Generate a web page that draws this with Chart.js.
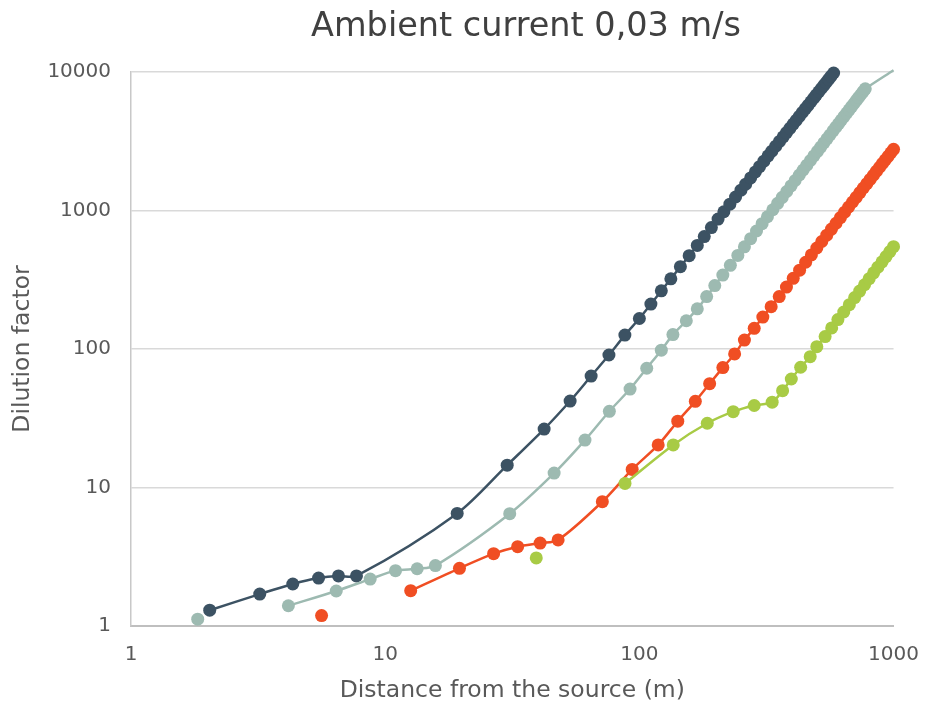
<!DOCTYPE html>
<html>
<head>
<meta charset="utf-8">
<title>Ambient current 0,03 m/s</title>
<script src="https://cdn.jsdelivr.net/npm/chart.js@4/dist/chart.umd.min.js"></script>
<style>
    body { margin: 0; background: #fff; }
    #wrap { width: 936px; height: 704px; }
</style>
</head>
<body>
<div id="wrap"><canvas id="chart" width="936" height="704"></canvas></div>
<script>
// values (distance in m, dilution factor)
const xTicks = [1, 10, 100, 1000];
const yTicks = [1, 10, 100, 1000, 10000];

const darkX = [2.04, 3.21, 4.33, 5.47, 6.55, 7.71, 19.2, 30.2, 42.2, 53.4, 64.6, 75.9, 87.7,
    100, 111, 122, 133, 145, 157, 169, 180, 192, 204, 215, 227, 239, 251, 262, 274, 286, 297,
    309, 321, 332, 344, 356, 368, 379, 391, 403, 414, 426, 438, 450, 461, 473, 485, 496, 508,
    520, 532, 543, 555, 567, 581];
const darkY = [1.30, 1.70, 2.01, 2.22, 2.30, 2.30, 6.5, 14.5, 26.4, 42.1, 63.8, 90.5, 126,
    166, 211, 263, 321, 393, 472, 560, 648, 753, 867, 979, 1111, 1252, 1402, 1549, 1719, 1899, 2073,
    2272, 2481, 2683, 2915, 3155, 3406, 3648, 3923, 4206, 4478, 4784, 5104, 5435, 5747, 6101, 6464, 6810, 7198,
    7598, 8011, 8402, 8838, 9290, 9831];

const grayLoneX = [1.83];
const grayLoneY = [1.12];
const grayX = [4.16, 6.42, 8.73, 10.98, 13.36, 15.76, 30.9, 46.2, 61.1, 76.2, 91.9, 106.9, 122,
    135.5, 153, 169, 184, 198, 213, 228, 244, 259, 274, 289, 304, 319, 335, 350, 365, 380, 395,
    410, 426, 441, 456, 471, 486, 502, 517, 532, 547, 562, 578, 593, 608, 623, 638, 654, 669,
    684, 699, 714, 729, 744, 759, 774, 1000];
const grayY = [1.40, 1.79, 2.18, 2.51, 2.59, 2.73, 6.47, 12.7, 22.0, 35.5, 51.4, 72.6, 98,
    127, 160, 195, 239, 287, 342, 402, 474, 547, 626, 711, 803, 901, 1013, 1126, 1245, 1372, 1505,
    1647, 1805, 1961, 2125, 2296, 2476, 2676, 2872, 3076, 3289, 3509, 3753, 3994, 4238, 4493, 4757, 5049, 5331,
    5625, 5924, 6233, 6551, 6881, 7215, 7562, 10300];

const orangeLoneX = [5.62];
const orangeLoneY = [1.19];
const orangeX = [12.6, 19.6, 26.7, 33.2, 40.7, 47.9, 71.5, 93.7, 118.6, 141.6, 166, 189, 213,
    237, 259, 283, 306, 330, 355, 379, 403, 427, 451, 475, 499, 522, 546, 570, 594, 618, 642,
    666, 690, 713, 737, 761, 785, 809, 833, 857, 881, 905, 928, 952, 976, 1000];
const orangeY = [1.80, 2.61, 3.33, 3.74, 3.97, 4.18, 7.9, 13.5, 20.3, 30.1, 41.9, 56.2, 73.4,
    92.1, 116, 141, 170, 202, 239, 280, 324, 371, 423, 478, 536, 597, 663, 734, 809, 889, 972,
    1060, 1152, 1245, 1347, 1453, 1563, 1677, 1797, 1923, 2052, 2186, 2319, 2463, 2612, 2767];

const greenLoneX = [39.3];
const greenLoneY = [3.10];
const greenX = [87.8, 135.9, 185, 234, 283, 333, 366, 396, 431, 470, 499, 538, 571, 604, 637,
    670, 703, 736, 769, 802, 835, 868, 901, 934, 967, 1000];
const greenY = [10.7, 20.3, 29.1, 35.3, 39.1, 41.3, 50, 60.7, 73.8, 88, 104, 123, 142, 163, 185,
    209, 235, 262, 291, 322, 355, 390, 426, 465, 505, 548];

const DARK = '#3c5263';
const GRAY = '#9dbab1';
const ORANGE = '#f04e23';
const GREEN = '#a8cb45';

function toPoints(xs, ys) {
    return xs.map((x, i) => ({ x: x, y: ys[i] }));
}

function series(xs, ys, color, lastHidden) {
    const n = xs.length;
    return {
        data: toPoints(xs, ys),
        showLine: true,
        borderColor: color,
        backgroundColor: color,
        borderWidth: 2.5,
        tension: 0.3,
        pointRadius: ctx => (lastHidden && ctx.dataIndex === n - 1) ? 0 : 6.5,
        pointHoverRadius: 6.5,
        pointBorderWidth: 0,
        pointBackgroundColor: color,
        clip: false
    };
}

// the title sits a little right of the canvas centre, as in the original
const shiftTitle = {
    id: 'shiftTitle',
    afterLayout(chart) {
        if (chart.titleBlock) {
            chart.titleBlock.left = 157;
            chart.titleBlock.right = 895;
        }
    }
};

const font = 'DejaVu Sans';

new Chart(document.getElementById('chart'), {
    type: 'scatter',
    data: {
        datasets: [
            series(greenLoneX, greenLoneY, GREEN),
            series(greenX, greenY, GREEN),
            series(orangeLoneX, orangeLoneY, ORANGE),
            series(orangeX, orangeY, ORANGE),
            series(grayLoneX, grayLoneY, GRAY),
            series(grayX, grayY, GRAY, true),
            series(darkX, darkY, DARK)
        ]
    },
    plugins: [shiftTitle],
    options: {
        responsive: false,
        animation: false,
        layout: { padding: { left: 0, right: 41, top: 0, bottom: 0 } },
        plugins: {
            legend: { display: false },
            tooltip: { enabled: false },
            title: {
                display: true,
                text: 'Ambient current 0,03 m/s',
                color: '#404040',
                font: { family: font, size: 33.5, weight: 'normal' },
                padding: { top: 7, bottom: 24.8 }
            }
        },
        scales: {
            x: {
                type: 'logarithmic',
                min: 1,
                max: 1000,
                afterBuildTicks: s => { s.ticks = xTicks.map(v => ({ value: v })); },
                afterFit: s => { s.height = 78; },
                grid: { display: false, drawTicks: false },
                border: { display: true, color: '#bfbfbf', width: 2 },
                ticks: {
                    color: '#595959',
                    font: { family: font, size: 20 },
                    padding: 17,
                    maxRotation: 0,
                    callback: v => String(v)
                },
                title: {
                    display: true,
                    text: 'Distance from the source (m)',
                    color: '#595959',
                    font: { family: font, size: 23.5 },
                    padding: { top: 0, bottom: -1 }
                }
            },
            y: {
                type: 'logarithmic',
                min: 1,
                max: 10000,
                afterBuildTicks: s => { s.ticks = yTicks.map(v => ({ value: v })); },
                afterFit: s => { s.width = 131; },
                grid: { color: '#d9d9d9', lineWidth: 1.5, drawTicks: false },
                border: { display: true, color: '#c8c8c8', width: 1.5 },
                ticks: {
                    color: '#595959',
                    font: { family: font, size: 20 },
                    padding: 20,
                    callback: v => String(v)
                },
                title: {
                    display: true,
                    text: 'Dilution factor',
                    color: '#595959',
                    font: { family: font, size: 23.5 },
                    padding: { top: 9, bottom: 0 }
                }
            }
        }
    }
});
</script>
</body>
</html>
